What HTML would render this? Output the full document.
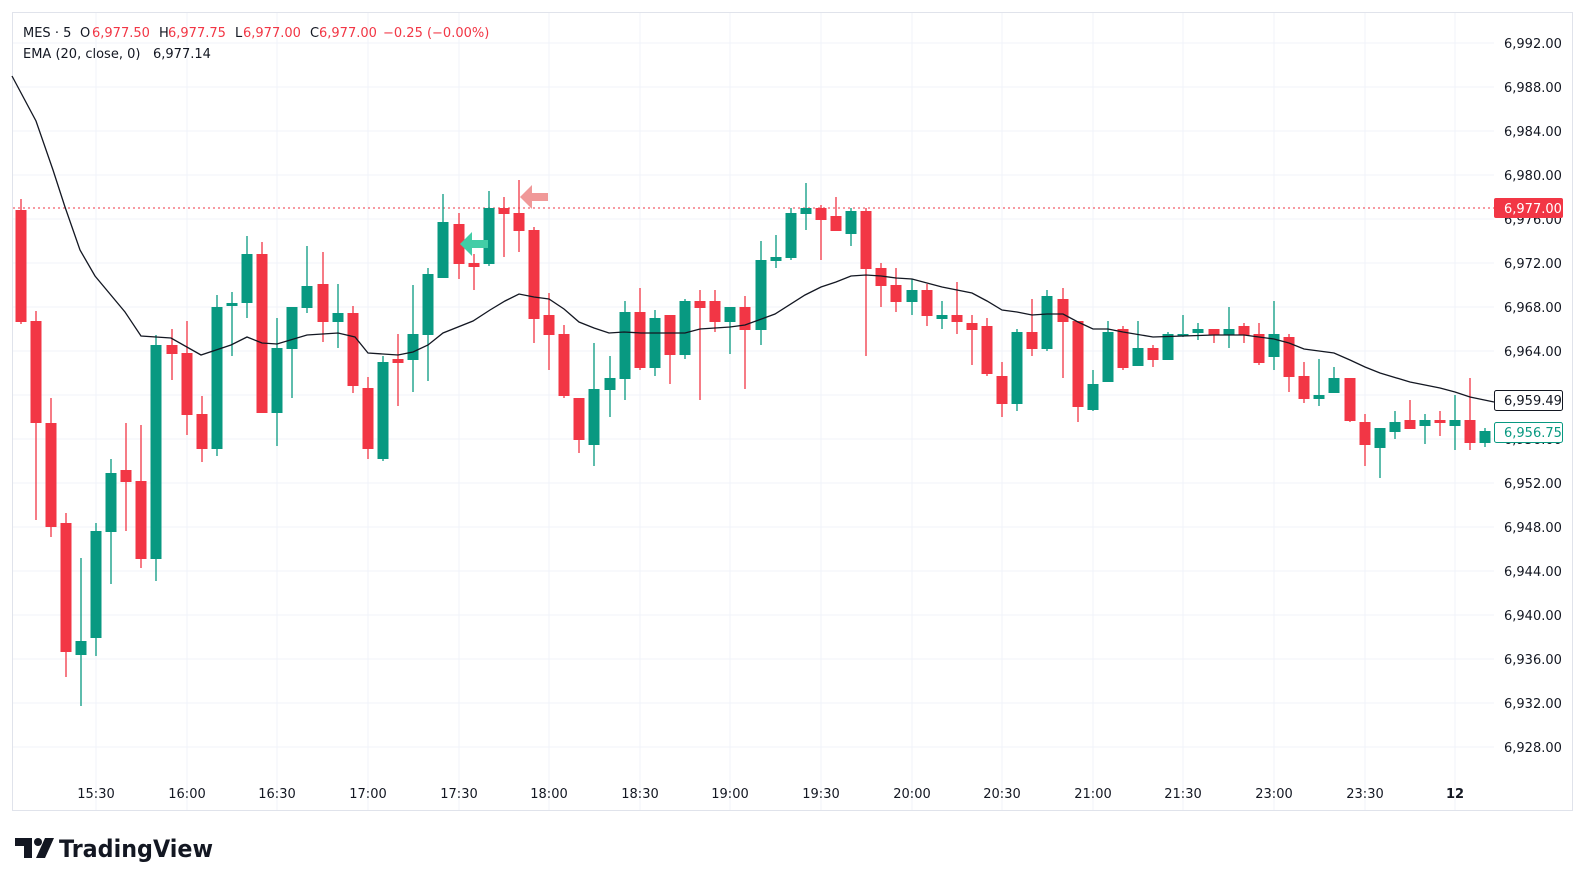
<!DOCTYPE html>
<html><head><meta charset="utf-8"><style>
body{margin:0;background:#fff;width:1586px;height:886px;overflow:hidden;font-family:"DejaVu Sans",sans-serif;}
svg{position:absolute;left:0;top:0}
</style></head><body>
<svg id="s" width="1586" height="886" xmlns="http://www.w3.org/2000/svg" font-family="DejaVu Sans, sans-serif"></svg>
<script>
const C=[[21,210,322,199,324,'r'],[36,321,423,311,520,'r'],[51,423,527,398,537,'r'],[66,523,652,513,677,'r'],[81,641,655,558,706,'g'],[96,531,638,523,656,'g'],[111,473,532,459,584,'g'],[126,470,482,423,531,'r'],[141,481,559,425,568,'r'],[156,345,559,335,581,'g'],[172,345,354,329,380,'r'],[187,353,415,321,435,'r'],[202,414,449,396,462,'r'],[217,307,449,295,456,'g'],[232,303,306,292,356,'g'],[247,254,303,236,318,'g'],[262,254,413,242,413,'r'],[277,348,413,318,446,'g'],[292,307,349,307,398,'g'],[307,286,308,246,313,'g'],[323,284,322,252,342,'r'],[338,313,322,284,348,'g'],[353,313,386,306,393,'r'],[368,388,449,377,459,'r'],[383,362,459,356,461,'g'],[398,359,363,334,406,'r'],[413,334,360,285,392,'g'],[428,274,335,268,381,'g'],[443,222,278,194,278,'g'],[459,224,264,213,279,'r'],[474,263,267,254,290,'r'],[489,208,264,191,266,'g'],[504,208,214,197,257,'r'],[519,213,231,180,252,'r'],[534,230,319,227,343,'r'],[549,315,335,293,370,'r'],[564,334,396,325,398,'r'],[579,398,440,398,453,'r'],[594,389,445,343,466,'g'],[610,378,390,356,417,'g'],[625,312,379,301,400,'g'],[640,312,368,288,370,'r'],[655,318,368,310,376,'g'],[670,315,355,315,384,'r'],[685,301,355,299,359,'g'],[700,301,308,290,400,'r'],[715,301,322,290,332,'r'],[730,307,322,307,354,'g'],[745,307,330,296,389,'r'],[761,260,330,241,345,'g'],[776,257,261,235,268,'g'],[791,213,258,208,260,'g'],[806,208,214,183,230,'g'],[821,208,220,205,260,'r'],[836,216,231,197,231,'r'],[851,211,234,208,246,'g'],[866,211,269,208,356,'r'],[881,268,286,263,307,'r'],[896,285,302,268,312,'r'],[912,290,302,279,315,'g'],[927,290,316,284,326,'r'],[942,315,319,301,329,'g'],[957,315,322,282,334,'r'],[972,323,330,315,365,'r'],[987,326,374,318,376,'r'],[1002,376,404,362,417,'r'],[1017,332,404,329,411,'g'],[1032,332,349,299,356,'r'],[1047,296,349,290,351,'g'],[1063,299,322,288,378,'r'],[1078,321,407,321,422,'r'],[1093,384,410,370,411,'g'],[1108,332,382,321,382,'g'],[1123,329,368,326,370,'r'],[1138,348,366,321,366,'g'],[1153,348,360,345,367,'r'],[1168,334,360,332,360,'g'],[1183,334,335,315,337,'g'],[1198,329,333,323,340,'g'],[1214,329,335,329,343,'r'],[1229,329,335,307,348,'g'],[1244,326,335,323,343,'r'],[1259,334,363,323,365,'r'],[1274,334,357,301,370,'g'],[1289,337,377,334,392,'r'],[1304,376,399,362,403,'r'],[1319,395,399,359,406,'g'],[1334,378,393,367,393,'g'],[1350,378,421,378,422,'r'],[1365,422,445,414,466,'r'],[1380,428,448,428,478,'g'],[1395,422,432,411,439,'g'],[1410,420,429,400,429,'r'],[1425,420,426,414,444,'g'],[1440,420,423,411,436,'r'],[1455,420,426,395,450,'g'],[1470,420,443,378,450,'r'],[1485,431,443,428,447,'g']];
const E=[[12,76],[36,121],[53,170],[65,207],[80,250],[95,276],[125,312],[141,336],[171,338],[201,355],[231,345],[247,337],[262,343],[277,344],[307,335],[338,333],[355,337],[368,353],[398,355],[413,352],[428,345],[443,333],[473,321],[490,310],[505,301],[519,294],[534,297],[549,299],[564,309],[579,322],[594,328],[609,333],[624,332],[641,333],[670,333],[685,333],[700,329],[730,327],[745,325],[775,314],[805,295],[821,287],[836,282],[851,276],[866,275],[881,276],[896,278],[912,279],[942,287],[972,293],[987,301],[1002,310],[1017,312],[1032,315],[1047,314],[1063,314],[1078,322],[1093,329],[1108,329],[1123,332],[1153,337],[1183,336],[1214,335],[1244,335],[1274,339],[1289,343],[1304,349],[1319,351],[1334,353],[1350,360],[1365,367],[1380,373],[1410,382],[1440,388],[1455,392],[1470,397],[1494,402]];
let h='';
h+='<rect x="12.5" y="12.5" width="1560" height="798" fill="none" stroke="#e0e3eb"/>';
for(let p=6928;p<=6992;p+=4){const y=43+(6992-p)*11;h+=`<line x1="13" x2="1494" y1="${y}" y2="${y}" stroke="#f0f3fa"/>`;
h+=`<text x="1504" y="${y+5}" font-size="13" fill="#131722">${(p/1000|0)},${String(p%1000).padStart(3,'0')}.00</text>`;}
const T=[[96,'15:30'],[187,'16:00'],[277,'16:30'],[368,'17:00'],[459,'17:30'],[549,'18:00'],[640,'18:30'],[730,'19:00'],[821,'19:30'],[912,'20:00'],[1002,'20:30'],[1093,'21:00'],[1183,'21:30'],[1274,'23:00'],[1365,'23:30'],[1455,'12']];
T.forEach(t=>{h+=`<line x1="${t[0]}" x2="${t[0]}" y1="13" y2="810" stroke="#f0f3fa"/>`;h+=`<text x="${t[0]}" y="798" font-size="13" fill="#131722" text-anchor="middle" ${t[1]=='12'?'font-weight="bold"':''}>${t[1]}</text>`;});
h+='<line x1="13" x2="1494" y1="208" y2="208" stroke="#f23645" stroke-dasharray="2,3"/>';
C.forEach(c=>{const col=c[5]=='g'?'#089981':'#f23645';h+=`<line x1="${c[0]}" x2="${c[0]}" y1="${c[3]}" y2="${c[4]}" stroke="${col}" stroke-width="1.3"/>`;h+=`<rect x="${c[0]-5.5}" y="${c[1]}" width="11" height="${Math.max(2,c[2]-c[1])}" fill="${col}"/>`;});
h+='<polyline fill="none" stroke="#131722" stroke-width="1.3" points="'+E.map(e=>e.join(',')).join(' ')+'"/>';
h+='<polygon points="460,244 472,232 472,240 488,240 488,248 472,248 472,256" fill="#42cda6"/>';
h+='<polygon points="520,197 532,185 532,193 548,193 548,201 532,201 532,209" fill="#f09898"/>';
h+='<rect x="1494" y="198" width="69" height="20" fill="#f23645" rx="2"/><text x="1504" y="213" font-size="13" fill="#fff">6,977.00</text>';
h+='<rect x="1494.5" y="390.5" width="68" height="20" fill="#fff" stroke="#131722" rx="2"/><text x="1504" y="405" font-size="13" fill="#131722">6,959.49</text>';
h+='<rect x="1494.5" y="422.5" width="68" height="20" fill="#fff" stroke="#089981" rx="2"/><text x="1504" y="437" font-size="13" fill="#089981">6,956.75</text>';
h+='<g font-size="13" fill="#131722"><text x="23" y="37">MES · 5</text><text x="80" y="37">O</text><text x="92" y="37" fill="#f23645">6,977.50</text><text x="159" y="37">H</text><text x="168" y="37" fill="#f23645">6,977.75</text><text x="235" y="37">L</text><text x="243" y="37" fill="#f23645">6,977.00</text><text x="310" y="37">C</text><text x="319" y="37" fill="#f23645">6,977.00</text><text x="383" y="37" fill="#f23645">−0.25 (−0.00%)</text>';
h+='<text x="23" y="58">EMA (20, close, 0)</text><text x="153" y="58">6,977.14</text></g>';
h+='<path d="M15 838 h17 v20 h-8 v-12 h-9z" fill="#131722"/><circle cx="38" cy="842" r="4" fill="#131722"/><path d="M45 838 h9 l-9 20 h-9z" fill="#131722"/>';
h+='<text x="59" y="857" font-size="24" font-weight="bold" fill="#131722" textLength="154" lengthAdjust="spacingAndGlyphs">TradingView</text>';
document.getElementById('s').innerHTML=h;
</script>
</body></html>
